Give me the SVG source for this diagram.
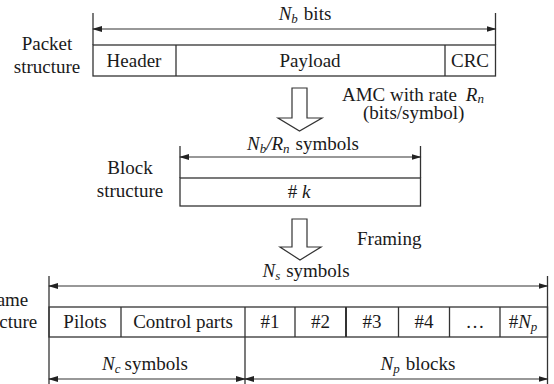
<svg xmlns="http://www.w3.org/2000/svg" width="554" height="384" viewBox="0 0 554 384" font-family="Liberation Serif, DejaVu Serif, serif" font-size="19">
<style>
.i{font-style:italic}
.s{font-size:13px;font-style:italic}
.ln{stroke:#333;stroke-width:1.3;fill:none}
.bx{stroke:#333;stroke-width:1.3;fill:#fff}
.dim{stroke:#333;stroke-width:1.2;fill:none;marker-start:url(#ah);marker-end:url(#ah)}
.ha{stroke:#333;stroke-width:1.2;fill:#fff}
</style>
<defs>
<marker id="ah" markerUnits="userSpaceOnUse" markerWidth="10" markerHeight="6" refX="9" refY="3" orient="auto-start-reverse">
<path d="M0,0 L10,3 L0,6 z" fill="#222"/>
</marker>
</defs>

<g id="packet" fill="#1a1a1a">
<text x="47" y="50" text-anchor="middle">Packet</text>
<text x="47" y="73" text-anchor="middle">structure</text>
<rect class="bx" x="93" y="45" width="402.5" height="31"/>
<line class="ln" x1="176" y1="45" x2="176" y2="76"/>
<line class="ln" x1="445" y1="45" x2="445" y2="76"/>
<text x="134" y="67" text-anchor="middle">Header</text>
<text x="310" y="67" text-anchor="middle">Payload</text>
<text x="470" y="67" text-anchor="middle">CRC</text>
</g>

<g id="block" fill="#1a1a1a">
<text x="130" y="174" text-anchor="middle">Block</text>
<text x="130" y="197" text-anchor="middle">structure</text>
<rect class="bx" x="180" y="178" width="240.5" height="28"/>
<text x="299" y="198" text-anchor="middle"># <tspan class="i">k</tspan></text>
</g>

<g id="frame" fill="#1a1a1a">
<text x="4" y="306" text-anchor="middle">Frame</text>
<text x="4" y="328" text-anchor="middle">structure</text>
<rect class="bx" x="49" y="307" width="498.5" height="30"/>
<line class="ln" x1="121" y1="307" x2="121" y2="337"/>
<line class="ln" x1="295" y1="307" x2="295" y2="337"/>
<line class="ln" x1="346" y1="307" x2="346" y2="337" style="stroke-width:2"/>
<line class="ln" x1="398.5" y1="307" x2="398.5" y2="337"/>
<line class="ln" x1="449.5" y1="307" x2="449.5" y2="337"/>
<line class="ln" x1="500" y1="307" x2="500" y2="337"/>
<text x="85" y="328" text-anchor="middle">Pilots</text>
<text x="183" y="328" text-anchor="middle">Control parts</text>
<text x="270" y="328" text-anchor="middle">#1</text>
<text x="320.5" y="328" text-anchor="middle">#2</text>
<text x="372" y="328" text-anchor="middle">#3</text>
<text x="424" y="328" text-anchor="middle">#4</text>
<text x="475" y="328" text-anchor="middle">…</text>
<text x="523" y="328" text-anchor="middle">#<tspan class="i">N</tspan><tspan class="s" dy="3">p</tspan></text>
</g>

<g id="connectors" fill="#1a1a1a">
<line class="ln" x1="93" y1="13" x2="93" y2="45"/>
<line class="ln" x1="495.5" y1="13" x2="495.5" y2="45"/>
<line class="dim" x1="93" y1="29" x2="495.5" y2="29"/>
<text x="305" y="20" text-anchor="middle"><tspan class="i">N</tspan><tspan class="s" dy="3">b</tspan><tspan dy="-3" dx="6">bits</tspan></text>

<polygon class="ha" points="292,88 307,88 307,118 322,118 299.5,131 278,118 292,118"/>
<text x="342" y="101"><tspan>AMC with rate </tspan><tspan class="i" dx="4">R</tspan><tspan class="s" dy="2">n</tspan></text>
<text x="363" y="119">(bits/symbol)</text>

<line class="ln" x1="180" y1="146" x2="180" y2="178"/>
<line class="ln" x1="420.5" y1="146" x2="420.5" y2="178"/>
<line class="dim" x1="180" y1="157" x2="420.5" y2="157"/>
<text x="303" y="150" text-anchor="middle"><tspan class="i">N</tspan><tspan class="s" dy="3">b</tspan><tspan class="i" dy="-3">/R</tspan><tspan class="s" dy="3">n</tspan><tspan dy="-3" dx="6">symbols</tspan></text>

<polygon class="ha" points="292,219 307,219 307,247 321,247 300,260 280,247 292,247"/>
<text x="357" y="245">Framing</text>

<line class="ln" x1="49" y1="276" x2="49" y2="384"/>
<line class="ln" x1="547.5" y1="276" x2="547.5" y2="384"/>
<line class="ln" x1="245" y1="307" x2="245" y2="384"/>
<line class="dim" x1="49" y1="286" x2="547.5" y2="286"/>
<text x="306" y="277" text-anchor="middle"><tspan class="i">N</tspan><tspan class="s" dy="3">s</tspan><tspan dy="-3" dx="6">symbols</tspan></text>
<line class="dim" x1="49" y1="379" x2="245" y2="379"/>
<line class="dim" x1="245" y1="379" x2="547.5" y2="379"/>
<text x="145" y="370" text-anchor="middle"><tspan class="i">N</tspan><tspan class="s" dy="3">c</tspan><tspan dy="-3" dx="4">symbols</tspan></text>
<text x="418" y="370" text-anchor="middle"><tspan class="i">N</tspan><tspan class="s" dy="3">p</tspan><tspan dy="-3" dx="6">blocks</tspan></text>
</g>
</svg>
